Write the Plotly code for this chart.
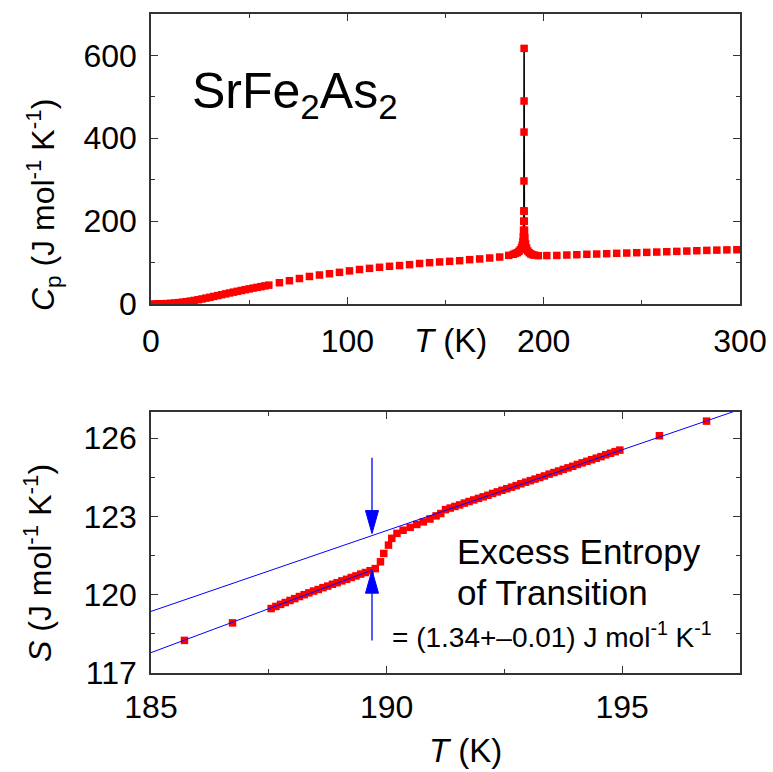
import numpy as np
import plotly.graph_objects as go

# ---------------- Top panel: Cp vs T ----------------
cp_T = [1.5, 3, 4.5, 6, 8, 10, 12, 14, 16, 18, 20, 22, 24, 26, 28, 30, 32, 34, 36, 38,
        40, 42, 44, 46, 48, 50, 52, 54, 56, 58, 60,
        65.4, 70.5, 75.6, 80.7, 85.8, 90.9, 96.0, 101.1, 106.2, 111.3, 116.4, 121.5,
        126.6, 131.7, 136.8, 141.9, 147.0, 152.1, 157.2, 162.3, 167.4, 172.5, 177.6, 182.2,
        197.3, 201.6, 206.7, 211.8, 216.9, 222.0, 227.0, 232.1, 237.2, 242.3, 247.4,
        252.5, 257.6, 262.7, 267.8, 272.9, 278.0, 283.1, 288.2, 293.3, 298.4]
cp_val = [0.05, 0.2, 0.4, 0.6, 1.0, 1.6, 2.4, 3.3, 4.4, 5.6, 7.0, 8.6, 10.3, 12.2, 14.2,
          16.2, 18.3, 20.3, 22.4, 24.5, 26.6, 28.6, 30.6, 32.6, 34.5, 36.4, 38.3, 40.1,
          41.9, 43.7, 45.5,
          51.4, 56.3, 61.5, 66.5, 70.0, 73.1, 76.4, 80.0, 83.3, 86.0, 88.6, 91.0,
          92.8, 95.0, 97.8, 99.8, 101.5, 103.0, 104.5, 107.0, 108.8, 111.0, 113.4, 117.4,
          116.6, 116.9, 117.2, 118.2, 119.0, 120.0, 120.6, 121.4, 122.3, 123.0, 123.8,
          124.6, 125.4, 126.2, 127.0, 127.8, 128.6, 129.4, 130.0, 130.6, 131.0]
peak_T = [184.5, 185.6, 186.6, 187.4, 188.1, 188.7, 189.1, 189.4, 189.6, 189.75, 189.85,
          189.93, 189.97, 190.0, 190.02, 190.04, 190.08, 190.14, 190.25, 190.45, 190.8,
          191.3, 191.9, 192.6, 193.4, 194.3, 195.3]
peak_val = [120, 122, 124, 127, 131, 136, 142, 150, 162, 178, 200,
            225, 297, 415, 490, 617, 224, 200, 178, 160, 145,
            135, 128, 124, 121, 119, 118]

# ---------------- Bottom panel: S vs T ----------------
s_T = [185.71, 186.73,
       187.55, 187.65, 187.75, 187.85, 187.95, 188.05, 188.15, 188.25, 188.35, 188.45,
       188.55, 188.65, 188.75, 188.85, 188.95, 189.05, 189.15, 189.25, 189.35, 189.45,
       189.55, 189.65, 189.76,
       189.87, 189.94, 190.04, 190.11, 190.22, 190.35, 190.50, 190.64, 190.78, 190.92,
       191.05, 191.15,
       191.25, 191.35, 191.45, 191.55, 191.65, 191.75, 191.85, 191.95, 192.05, 192.15,
       192.25, 192.35, 192.45, 192.55, 192.65, 192.75, 192.85, 192.95, 193.05, 193.15,
       193.25, 193.35, 193.45, 193.55, 193.65, 193.75, 193.85, 193.95, 194.05, 194.15,
       194.25, 194.35, 194.45, 194.55, 194.65, 194.75, 194.85, 194.95,
       195.79, 196.79]
s_val = [118.25, 118.92,
         119.47, 119.55, 119.63, 119.70, 119.78, 119.85, 119.93, 120.00, 120.07, 120.14,
         120.20, 120.27, 120.33, 120.40, 120.46, 120.53, 120.59, 120.66, 120.72, 120.79,
         120.85, 120.92, 121.00,
         121.26, 121.58, 121.90, 122.16, 122.35, 122.47, 122.58, 122.69, 122.79, 122.90,
         123.02, 123.11,
         123.26, 123.32, 123.38, 123.44, 123.51, 123.57, 123.63, 123.69, 123.75, 123.81,
         123.88, 123.94, 124.00, 124.06, 124.12, 124.18, 124.25, 124.31, 124.37, 124.43,
         124.49, 124.55, 124.62, 124.68, 124.74, 124.80, 124.86, 124.92, 124.99, 125.05,
         125.11, 125.17, 125.23, 125.29, 125.36, 125.42, 125.48, 125.54,
         126.09, 126.65]
fit_hi_T = [185.0, 197.5]
fit_hi_S = [119.36, 127.10]
fit_lo_T = [185.0, 189.69]
fit_lo_S = [117.78, 120.94]
arrow_T = 189.69
arrow_top_from = 125.25
arrow_bot_from = 118.25

x_ticks_top = [0, 100, 200, 300]
y_ticks_top = [0, 200, 400, 600]
x_ticks_bot = [185, 190, 195]
y_ticks_bot = [117, 120, 123, 126]

# ---------------- layout geometry ----------------
W, H = 773, 772
ML, MR, MT, MB = 151, 33, 14, 99
PW = W - ML - MR
PH = H - MT - MB
top_px = (14, 304)
bot_px = (412, 673)
def ydom(p):
    return [(H - MB - p[1]) / PH, (H - MB - p[0]) / PH]
XR_TOP, YR_TOP = [0, 300], [0, 700]
XR_BOT, YR_BOT = [185, 197.5], [117, 127]

def px(x):
    return (x - ML) / PW
def py(y):
    return (H - MB - y) / PH

RED = '#ff0000'
BLUE = '#0000ff'
FONT = 'Liberation Sans, Arial, sans-serif'

fig = go.Figure()
# peak connecting line (black)
fig.add_trace(go.Scatter(x=peak_T, y=peak_val, mode='lines',
                         line=dict(color='black', width=1.6),
                         xaxis='x', yaxis='y', showlegend=False))
all_T = cp_T[:55] + peak_T + cp_T[55:]
all_v = cp_val[:55] + peak_val + cp_val[55:]
fig.add_trace(go.Scatter(x=all_T, y=all_v, mode='markers',
                         marker=dict(symbol='square', size=7.5, color=RED, line=dict(width=0)),
                         xaxis='x', yaxis='y', showlegend=False))

# bottom
fig.add_trace(go.Scatter(x=s_T, y=s_val, mode='markers',
                         marker=dict(symbol='square', size=7.5, color=RED, line=dict(width=0)),
                         xaxis='x2', yaxis='y2', showlegend=False))
fig.add_trace(go.Scatter(x=fit_hi_T, y=fit_hi_S, mode='lines', line=dict(color=BLUE, width=1),
                         xaxis='x2', yaxis='y2', showlegend=False))
fig.add_trace(go.Scatter(x=fit_lo_T, y=fit_lo_S, mode='lines', line=dict(color=BLUE, width=1),
                         xaxis='x2', yaxis='y2', showlegend=False))

# arrows (heads sized in pixels, converted through axis scale)
pxT = PW / (XR_BOT[1] - XR_BOT[0])
pxS = (bot_px[1] - bot_px[0]) / (YR_BOT[1] - YR_BOT[0])
hl = 23 / pxS
hw = 6.5 / pxT
tip_hi = float(np.interp(arrow_T, fit_hi_T, fit_hi_S)) + 2 / pxS
tip_lo = float(np.interp(arrow_T, fit_lo_T, fit_lo_S))
for (start, tip, sgn) in [(arrow_top_from, tip_hi, 1), (arrow_bot_from, tip_lo, -1)]:
    fig.add_trace(go.Scatter(x=[arrow_T, arrow_T], y=[start, tip + sgn * hl], mode='lines',
                             line=dict(color=BLUE, width=1.3), xaxis='x2', yaxis='y2',
                             showlegend=False))
    fig.add_trace(go.Scatter(x=[arrow_T, arrow_T - hw, arrow_T + hw, arrow_T],
                             y=[tip, tip + sgn * hl, tip + sgn * hl, tip],
                             mode='lines', fill='toself', fillcolor=BLUE,
                             line=dict(color=BLUE, width=1), xaxis='x2', yaxis='y2',
                             showlegend=False))

axis_common = dict(showline=True, linecolor='#333333', linewidth=1.5, mirror='allticks',
                   ticks='inside', ticklen=7, tickwidth=1.3, tickcolor='#333333',
                   showgrid=False, zeroline=False, automargin=False,
                   tickfont=dict(family=FONT, size=32, color='black'))

fig.update_layout(
    width=W, height=H,
    margin=dict(l=ML, r=MR, t=MT, b=MB, pad=0, autoexpand=False),
    plot_bgcolor='white', paper_bgcolor='white',
    font=dict(family=FONT, color='black'),
    xaxis=dict(domain=[0, 1], range=XR_TOP, tickvals=x_ticks_top, anchor='y',
               minor=dict(ticks='inside', ticklen=4, tickwidth=1.2, tickcolor='#333333', dtick=50, tick0=0),
               ticklabelstandoff=8, **axis_common),
    yaxis=dict(domain=ydom(top_px), range=YR_TOP, tickvals=y_ticks_top, anchor='x',
               minor=dict(ticks='inside', ticklen=4, tickwidth=1.2, tickcolor='#333333', dtick=100, tick0=0),
               ticklabelstandoff=6, **axis_common),
    xaxis2=dict(domain=[0, 1], range=XR_BOT, tickvals=x_ticks_bot, anchor='y2',
                minor=dict(ticks='inside', ticklen=4, tickwidth=1.2, tickcolor='#333333', dtick=2.5, tick0=185),
                ticklabelstandoff=5, **axis_common),
    yaxis2=dict(domain=ydom(bot_px), range=YR_BOT, tickvals=y_ticks_bot, anchor='x2',
                minor=dict(ticks='inside', ticklen=4, tickwidth=1.2, tickcolor='#333333', dtick=1.5, tick0=117),
                ticklabelstandoff=6, **axis_common),
)

ann = []
def add_text(text, x, y, size, xanchor='center', yanchor='middle', angle=0):
    ann.append(dict(text=text, xref='paper', yref='paper', x=px(x), y=py(y),
                    xanchor=xanchor, yanchor=yanchor, showarrow=False, textangle=angle,
                    font=dict(family=FONT, size=size, color='black')))

add_text('SrFe<sub>2</sub>As<sub>2</sub>', 190, 95, 50, xanchor='left')
add_text('<i>T</i> (K)', 450, 340, 33)
add_text('<i>T</i> (K)', 465, 750, 33)
add_text('<i>C</i><sub>p</sub> (J mol<sup>-1</sup> K<sup>-1</sup>)', 43, 205, 32, angle=-90)
add_text('<i>S</i> (J mol<sup>-1</sup> K<sup>-1</sup>)', 38, 563, 32, angle=-90)
add_text('Excess Entropy', 455, 551, 35, xanchor='left')
add_text('of Transition', 455, 592, 35, xanchor='left')
add_text('= (1.34+–0.01) J mol<sup>-1</sup> K<sup>-1</sup>', 390, 635, 28, xanchor='left')
fig.update_layout(annotations=ann)

fig.write_html('out.html', config={'displayModeBar': False},
               post_script="document.body.style.margin='0px';document.body.style.padding='0px';")
